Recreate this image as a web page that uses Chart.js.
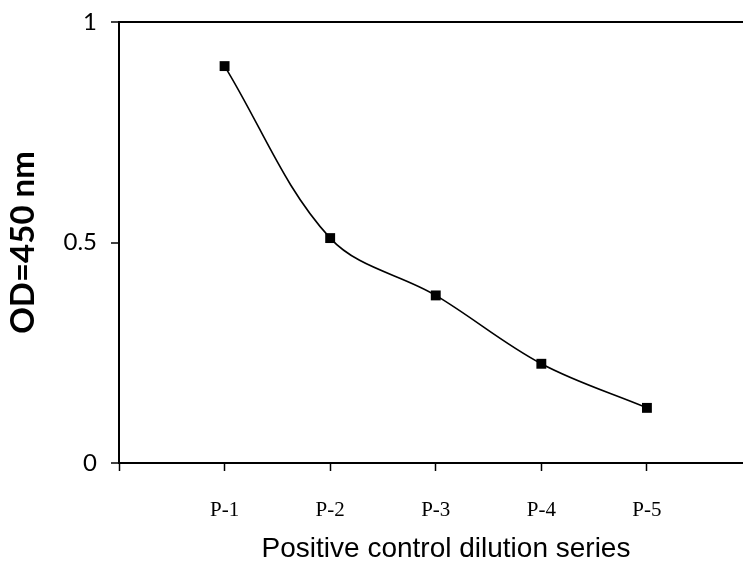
<!DOCTYPE html>
<html>
<head>
<meta charset="utf-8">
<script src="https://cdn.jsdelivr.net/npm/chart.js@4"></script>
<style>
  body { margin: 0; background: #fff; }
  canvas { display: block; }
</style>
</head>
<body>
<canvas id="myChart" width="743" height="561"></canvas>
<script>
// data
const categories = ['P-1', 'P-2', 'P-3', 'P-4', 'P-5'];
const odValues = [0.90, 0.51, 0.38, 0.225, 0.125];
const yTicks = [0, 0.5, 1];
const yTickLabels = ['0', '0.5', '1'];
const xTitle = 'Positive control dilution series';

// x title sits a bit right of the axis centre in the original
const xTitlePlugin = {
  id: 'xTitle',
  afterDraw: function(c){
    const g = c.ctx;
    const area = c.chartArea;
    g.save();
    g.font = '28px "Liberation Sans", Arial, sans-serif';
    g.fillStyle = '#000';
    g.textAlign = 'center';
    g.textBaseline = 'middle';
    g.fillText(xTitle, (area.left + area.right) / 2 + 15, 549);
    g.restore();
  }
};

const ctx = document.getElementById('myChart').getContext('2d');
// eslint-disable-next-line no-undef
const chart = new Chart(ctx, {
  type: 'line',
  data: {
    datasets: [{
      label: 'OD',
      data: odValues.map((v, i) => ({ x: i + 1, y: v })),
      borderColor: '#000',
      backgroundColor: '#000',
      borderWidth: 1.6,
      tension: 0.35,
      pointStyle: 'rect',
      pointRadius: 7,
      pointBorderWidth: 0,
    }]
  },
  plugins: [xTitlePlugin],
  options: {
    responsive: false,
    animation: false,
    layout: { autoPadding: false, padding: { top: 22, right: 0, left: 0, bottom: 0 } },
    plugins: { legend: { display: false }, tooltip: { enabled: false } },
    scales: {
      x: {
        type: 'linear',
        min: 0,
        max: 5.91,
        afterFit: function(scale){
          scale.height = 98;
          scale.paddingLeft = 0;
          scale.paddingRight = 0;
        },
        afterBuildTicks: function(scale){
          scale.ticks = [0, 1, 2, 3, 4, 5].map(v => ({ value: v }));
        },
        border: { color: '#000', width: 2 },
        grid: { drawOnChartArea: false, drawTicks: true, tickLength: 8, tickColor: '#000', tickWidth: 1.5 },
        ticks: {
          color: '#000',
          padding: 27,
          maxRotation: 0,
          autoSkip: false,
          font: { family: '"Liberation Serif", serif', size: 21 },
          callback: function(value){ return categories[value - 1] || ''; }
        }
      },
      y: {
        min: 0,
        max: 1,
        afterFit: function(scale){
          scale.width = 119;
          scale.paddingTop = 0;
          scale.paddingBottom = 0;
        },
        afterBuildTicks: function(scale){
          scale.ticks = yTicks.map(v => ({ value: v }));
        },
        border: { color: '#000', width: 2 },
        grid: {
          drawTicks: true,
          tickLength: 8,
          tickColor: '#000',
          tickWidth: 1.5,
          lineWidth: 2,
          color: function(c){ return c.tick && c.tick.value === 1 ? '#000' : 'rgba(0,0,0,0)'; }
        },
        ticks: {
          color: '#000',
          padding: 14,
          font: { family: 'Lato, sans-serif', size: 24 },
          callback: function(value, index){ return yTickLabels[index]; }
        },
        title: {
          display: true,
          text: 'OD=450 nm',
          color: '#000',
          padding: { top: 4, bottom: 0 },
          font: { family: 'Lato, sans-serif', size: 33, weight: 'bold' }
        }
      }
    }
  }
});
</script>
</body>
</html>
